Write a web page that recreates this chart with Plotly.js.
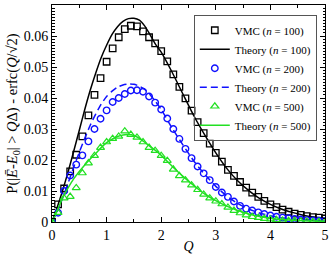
<!DOCTYPE html>
<html>
<head>
<meta charset="utf-8">
<script src="https://cdn.plot.ly/plotly-3.0.1.min.js"></script>
<style>html,body{margin:0;padding:0;background:#fff;}#chart{width:329px;height:254px;}</style>
</head>
<body>
<div id="chart"></div>
<script>
// Q grid of the VMC samples
const qVMC = [0,0.111,0.222,0.333,0.444,0.556,0.667,0.778,0.889,1,1.111,1.222,1.333,1.444,1.556,1.667,1.778,1.889,2,2.111,2.222,2.333,2.444,2.556,2.667,2.778,2.889,3,3.111,3.222,3.333,3.444,3.556,3.667,3.778,3.889,4,4.111,4.222,4.333,4.444,4.556,4.667,4.778,4.889,5];
const vmc100 = [0,0.0057,0.0108,0.0163,0.0217,0.0276,0.0344,0.0410,0.0464,0.0517,0.0560,0.0596,0.0622,0.0633,0.0631,0.0615,0.0596,0.0576,0.0551,0.0518,0.0476,0.0436,0.0399,0.0359,0.0322,0.0287,0.0253,0.0223,0.0195,0.0168,0.0149,0.0129,0.0111,0.0095,0.0081,0.0068,0.0057,0.0048,0.0040,0.0033,0.0027,0.0023,0.0019,0.0016,0.0014,0.0012];
const vmc200 = [0,0.0030,0.0100,0.0150,0.0185,0.0215,0.0260,0.0300,0.0333,0.0360,0.0387,0.0400,0.0413,0.0424,0.0425,0.0420,0.0405,0.0385,0.0363,0.0334,0.0300,0.0268,0.0236,0.0206,0.0179,0.0157,0.0135,0.0113,0.0095,0.0081,0.0066,0.0052,0.0043,0.0037,0.0031,0.0026,0.0021,0.0017,0.0014,0.0012,0.0010,0.0008,0.0006,0.0005,0.0004,0.0003];
const vmc500 = [0,0.0030,0.0077,0.0082,0.0110,0.0158,0.0190,0.0214,0.0240,0.0258,0.0269,0.0276,0.0293,0.0282,0.0273,0.0258,0.0240,0.0230,0.0214,0.0198,0.0170,0.0149,0.0135,0.0119,0.0104,0.0089,0.0077,0.0067,0.0058,0.0047,0.0037,0.0029,0.0022,0.0017,0.0014,0.0011,0.0009,0.0007,0.0005,0.0004,0.0003,0.0002,0.0002,0.0001,0.0001,0.0001];

// Q grid of the theory curves
const qTheory = [0,0.1,0.2,0.3,0.4,0.5,0.6,0.7,0.8,0.9,1.0,1.1,1.2,1.3,1.4,1.5,1.6,1.7,1.8,1.9,2.0,2.2,2.4,2.6,2.8,3.0,3.2,3.4,3.6,3.8,4.0,4.2,4.4,4.6,4.8,5.0];
const theory100 = [0,0.0050,0.0105,0.0165,0.0230,0.0296,0.0363,0.0425,0.0480,0.0530,0.0570,0.0605,0.0630,0.0647,0.0656,0.0657,0.0651,0.0632,0.0603,0.0572,0.0548,0.0483,0.0412,0.0342,0.0280,0.0223,0.0173,0.0133,0.0102,0.0076,0.0057,0.0042,0.0031,0.0022,0.0016,0.0012];
const theory200 = [0,0.0035,0.0080,0.0128,0.0178,0.0225,0.0270,0.0312,0.0348,0.0380,0.0405,0.0422,0.0435,0.0442,0.0445,0.0444,0.0438,0.0428,0.0410,0.0388,0.0363,0.0303,0.0248,0.0196,0.0153,0.0115,0.0084,0.0060,0.0042,0.0029,0.0020,0.0014,0.0010,0.0007,0.0005,0.0003];
const theory500 = [0,0.0038,0.0080,0.0112,0.0140,0.0163,0.0184,0.0203,0.0221,0.0240,0.0256,0.0267,0.0276,0.0281,0.0282,0.0279,0.0270,0.0257,0.0243,0.0230,0.0215,0.0180,0.0147,0.0117,0.0090,0.0069,0.0051,0.0037,0.0026,0.0018,0.0012,0.0008,0.0006,0.0004,0.0003,0.0002];

const names = ['VMC (<i>n</i> = 100)','Theory (<i>n</i> = 100)','VMC (<i>n</i> = 200)','Theory (<i>n</i> = 200)','VMC (<i>n</i> = 500)','Theory (<i>n</i> = 500)'];
const xTicks = [0,1,2,3,4,5];
const yTicks = [0,0.01,0.02,0.03,0.04,0.05,0.06,0.07];
const yTickText = ['0','0.01','0.02','0.03','0.04','0.05','0.06','0.07'];

const BLACK = '#000000', BLUE = '#1010ff', GREEN = '#22e022';

const traces = [
  {x: qVMC, y: vmc100, name: names[0], mode: 'markers', type: 'scatter',
   marker: {symbol: 'square-open', size: 6.5, color: BLACK, line: {width: 1.3, color: BLACK}}},
  {x: qTheory, y: theory100, name: names[1], mode: 'lines', type: 'scatter',
   line: {color: BLACK, width: 1.5, shape: 'spline', smoothing: 0.6}},
  {x: qVMC, y: vmc200, name: names[2], mode: 'markers', type: 'scatter',
   marker: {symbol: 'circle-open', size: 6.5, color: BLUE, line: {width: 1.4, color: BLUE}}},
  {x: qTheory, y: theory200, name: names[3], mode: 'lines', type: 'scatter',
   line: {color: BLUE, width: 1.5, dash: '7px,4px', shape: 'spline', smoothing: 0.6}},
  {x: qVMC, y: vmc500, name: names[4], mode: 'markers', type: 'scatter',
   marker: {symbol: 'triangle-up-open', size: 7, color: GREEN, line: {width: 1.2, color: GREEN}}},
  {x: qTheory, y: theory500, name: names[5], mode: 'lines', type: 'scatter',
   line: {color: GREEN, width: 1.5, shape: 'spline', smoothing: 0.6}}
];

const layout = {
  width: 329, height: 254,
  margin: {l: 52, r: 4, t: 5, b: 32, autoexpand: false},
  paper_bgcolor: '#fff', plot_bgcolor: '#fff',
  font: {family: 'Liberation Serif, Times New Roman, serif', size: 14, color: '#000'},
  showlegend: true,
  legend: {x: 0.97, y: 0.955, xanchor: 'right', yanchor: 'top',
           bgcolor: 'rgba(255,255,255,0)', bordercolor: '#555', borderwidth: 1,
           font: {family: 'Liberation Serif, serif', size: 11, color: '#000'},
           itemwidth: 30, tracegroupgap: 0},
  xaxis: {range: [0, 5], tickvals: xTicks, ticktext: xTicks.map(String), automargin: false,
          ticks: 'inside', ticklen: 5, tickwidth: 1, tickcolor: '#000',
          showline: true, linecolor: '#000', linewidth: 1, mirror: 'allticks',
          showgrid: false, zeroline: false,
          minor: {dtick: 0.5, ticks: 'inside', ticklen: 3, tickcolor: '#000', showgrid: false},
          tickfont: {size: 14},
          title: {text: '<i>Q</i>', font: {size: 14}, standoff: 1}},
  yaxis: {range: [0, 0.07], tickvals: yTicks, ticktext: yTickText, automargin: false,
          ticks: 'inside', ticklen: 5, tickwidth: 1, tickcolor: '#000',
          showline: true, linecolor: '#000', linewidth: 1, mirror: 'allticks',
          showgrid: false, zeroline: false,
          minor: {dtick: 0.001, ticks: 'inside', ticklen: 2.5, tickcolor: '#000', showgrid: false},
          tickfont: {size: 14},
          title: {text: 'P(|<i>Ē</i>-<i>E</i><sub>0</sub>| > <i>Q</i>Δ) - erfc(<i>Q</i>/√2)', font: {size: 14.5}, standoff: 2}}
};

Plotly.newPlot('chart', traces, layout, {displayModeBar: false, staticPlot: true});
</script>
</body>
</html>
